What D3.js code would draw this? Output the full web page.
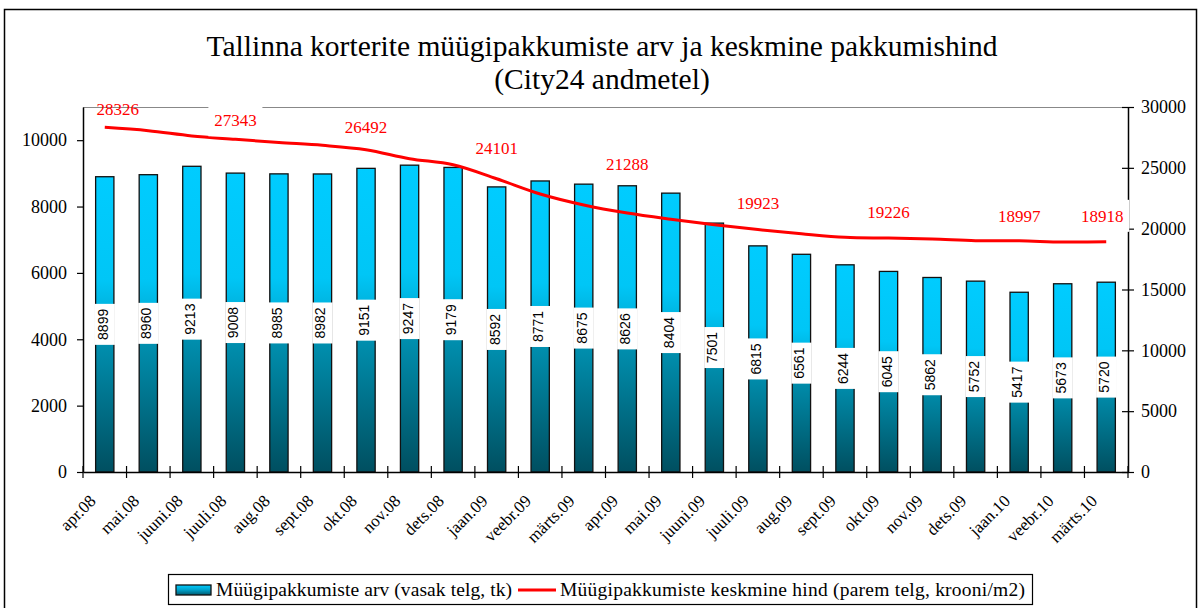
<!DOCTYPE html>
<html lang="et">
<head>
<meta charset="utf-8">
<title>Tallinna korterite müügipakkumised</title>
<script src="https://cdn.jsdelivr.net/npm/d3@7"></script>
<style>
  body { margin: 0; background: #fff; }
  text { font-family: "Palatino Linotype", "Book Antiqua", Palatino, "Liberation Serif", serif; }
</style>
</head>
<body>
<script>
// kuud
var months = ["apr.08","mai.08","juuni.08","juuli.08","aug.08","sept.08","okt.08","nov.08","dets.08",
  "jaan.09","veebr.09","märts.09","apr.09","mai.09","juuni.09","juuli.09","aug.09","sept.09",
  "okt.09","nov.09","dets.09","jaan.10","veebr.10","märts.10"];

// pakkumiste arv (vasak telg)
var offers = [8899,8960,9213,9008,8985,8982,9151,9247,9179,8592,8771,8675,8626,8404,7501,6815,
  6561,6244,6045,5862,5752,5417,5673,5720];

// keskmine hind (parem telg)
var price = [28326,28050,27620,27343,27080,26850,26492,25750,25250,24101,22850,21950,21288,20780,
  20330,19923,19580,19290,19226,19150,19010,18997,18900,18918];

// which price points carry a label, and where the label sits relative to the point
var priceLabelIdx = [0,3,6,9,12,15,18,21,23];
var priceLabelDx = [13,0,0,0,0,0,0,0,-4];
var priceLabelDy = [-18,-19,-23,-31,-49,-27,-26,-25,-26];

var leftTicks = [0,2000,4000,6000,8000,10000];
var rightTicks = [0,5000,10000,15000,20000,25000,30000];

var W = 1198, H = 608;
var pLeft = 83, pRight = 1128, pTop = 107, pBottom = 472;

var svg = d3.select("body").append("svg")
  .attr("width", W).attr("height", H);

var defs = svg.append("defs");
var grad = defs.append("linearGradient").attr("id", "barGrad")
  .attr("x1", 0).attr("y1", 0).attr("x2", 0).attr("y2", 1);
[[0,"#00ccff"],[0.35,"#00c6f6"],[0.5,"#00a9d2"],[0.56,"#0090b0"],[1,"#004f60"]].forEach(function(s) {
  grad.append("stop").attr("offset", s[0]).attr("stop-color", s[1]);
});
var legGrad = defs.append("linearGradient").attr("id", "legGrad")
  .attr("x1", 0).attr("y1", 0).attr("x2", 0).attr("y2", 1);
[[0,"#00ccff"],[0.5,"#00a0c8"],[1,"#005a70"]].forEach(function(s) {
  legGrad.append("stop").attr("offset", s[0]).attr("stop-color", s[1]);
});

//outer frame
svg.append("rect").attr("x", 4.5).attr("y", 9.5).attr("width", 1192).attr("height", 620)
  .attr("fill", "none").attr("stroke", "#000").attr("stroke-width", 1.5);

//title
var title = svg.append("text").attr("text-anchor", "middle").attr("font-size", 29.5).attr("fill", "#000");
title.append("tspan").attr("x", 602).attr("y", 56)
  .text("Tallinna korterite müügipakkumiste arv ja keskmine pakkumishind");
title.append("tspan").attr("x", 602).attr("y", 89).text("(City24 andmetel)");

//scales
var x = d3.scaleBand().domain(months).range([pLeft, pRight]).padding(0);
var yL = d3.scaleLinear().domain([0, 11000]).range([pBottom, pTop]);
var yR = d3.scaleLinear().domain([0, 30000]).range([pBottom, pTop]);
var barW = x.bandwidth() * 0.42;
function cxOf(i) { return x(months[i]) + x.bandwidth() / 2; }

//plot area top border
svg.append("line").attr("x1", pLeft).attr("x2", pRight).attr("y1", pTop + 0.5).attr("y2", pTop + 0.5)
  .attr("stroke", "#888").attr("stroke-width", 1.2);

//bars
var bars = svg.append("g");
bars.selectAll("rect").data(offers).enter().append("rect")
  .attr("x", function(d, i) { return cxOf(i) - barW / 2; })
  .attr("y", function(d) { return yL(d); })
  .attr("width", barW)
  .attr("height", function(d) { return pBottom - yL(d); })
  .attr("fill", "url(#barGrad)")
  .attr("stroke", "#111").attr("stroke-width", 1.3);

//bar value labels
var bl = svg.append("g");
offers.forEach(function(d, i) {
  var cx = cxOf(i);
  var cy = yL(d / 2);
  bl.append("rect").attr("x", cx - barW / 2 - 1).attr("y", cy - 20.5)
    .attr("width", barW + 2).attr("height", 41).attr("fill", "#fff");
  bl.append("text").attr("transform", "translate(" + (cx + 3) + "," + cy + ") rotate(-90)")
    .attr("text-anchor", "middle")
    .style("font-family", "'Liberation Sans', Arial, sans-serif").attr("font-size", 14)
    .text(d);
});

//axes
var fmt = d3.format("d");
var axL = svg.append("g").attr("transform", "translate(" + pLeft + ",0)")
  .call(d3.axisLeft(yL).tickValues(leftTicks).tickFormat(fmt).tickSize(6).tickSizeOuter(0).tickPadding(10));
var axR = svg.append("g").attr("transform", "translate(" + pRight + ",0)")
  .call(d3.axisRight(yR).tickValues(rightTicks).tickFormat(fmt).tickSize(6).tickSizeOuter(0).tickPadding(7));
axR.selectAll(".tick line").attr("x1", -6);
var axB = svg.append("g").attr("transform", "translate(0," + pBottom + ")")
  .call(d3.axisBottom(x).tickSize(0).tickSizeOuter(0).tickPadding(0));
axB.selectAll(".tick text")
  .attr("text-anchor", "end")
  .attr("transform", "translate(-8,30) rotate(-45)")
  .attr("dy", 0).attr("y", 0);
[axL, axR, axB].forEach(function(a) {
  a.selectAll("path").attr("stroke", "#000").attr("stroke-width", 1.5);
  a.selectAll(".tick line").attr("stroke", "#000").attr("stroke-width", 1.2);
  a.selectAll("text").attr("fill", "#000").attr("font-size", 18)
    .style("font-family", "'Palatino Linotype', 'Book Antiqua', 'Liberation Serif', serif");
});
axB.selectAll("text").attr("font-size", 17);

//category boundary ticks on the x axis
var bounds = months.map(function(m) { return x(m); }).concat([pRight]);
svg.append("g").selectAll("line").data(bounds).enter().append("line")
  .attr("x1", function(d) { return d; }).attr("x2", function(d) { return d; })
  .attr("y1", pBottom - 6).attr("y2", pBottom + 6)
  .attr("stroke", "#000").attr("stroke-width", 1.2);

//price line
var line = d3.line()
  .x(function(d, i) { return cxOf(i); })
  .y(function(d) { return yR(d); })
  .curve(d3.curveCatmullRom.alpha(0.5));
svg.append("path").datum(price).attr("d", line)
  .attr("fill", "none").attr("stroke", "#ff0000").attr("stroke-width", 3);

//price labels
var pl = svg.append("g");
priceLabelIdx.forEach(function(idx, k) {
  var cx = cxOf(idx) + priceLabelDx[k];
  var cy = yR(price[idx]) + priceLabelDy[k];
  if (k > 0) {
    pl.append("rect").attr("x", cx - 27).attr("y", cy - 16).attr("width", 54).attr("height", 32)
      .attr("fill", "#fff");
  }
  pl.append("text").attr("x", cx).attr("y", cy).attr("dy", "0.35em")
    .attr("text-anchor", "middle").attr("font-size", 17).attr("fill", "#ff0000")
    .text(price[idx]);
});

//legend
var lg = svg.append("g");
lg.append("rect").attr("x", 168.5).attr("y", 574.5).attr("width", 864).attr("height", 30)
  .attr("fill", "#fff").attr("stroke", "#000").attr("stroke-width", 1.2);
lg.append("rect").attr("x", 176).attr("y", 585).attr("width", 35).attr("height", 10)
  .attr("fill", "url(#legGrad)").attr("stroke", "#111").attr("stroke-width", 1.3);
lg.append("text").attr("x", 216).attr("y", 596).attr("font-size", 19.5)
  .attr("textLength", 296).attr("lengthAdjust", "spacing")
  .text("Müügipakkumiste arv (vasak telg, tk)");
lg.append("line").attr("x1", 518).attr("x2", 556).attr("y1", 590).attr("y2", 590)
  .attr("stroke", "#ff0000").attr("stroke-width", 3);
lg.append("text").attr("x", 560).attr("y", 596).attr("font-size", 19.5)
  .attr("textLength", 465).attr("lengthAdjust", "spacing")
  .text("Müügipakkumiste keskmine hind (parem telg, krooni/m2)");
</script>
</body>
</html>
